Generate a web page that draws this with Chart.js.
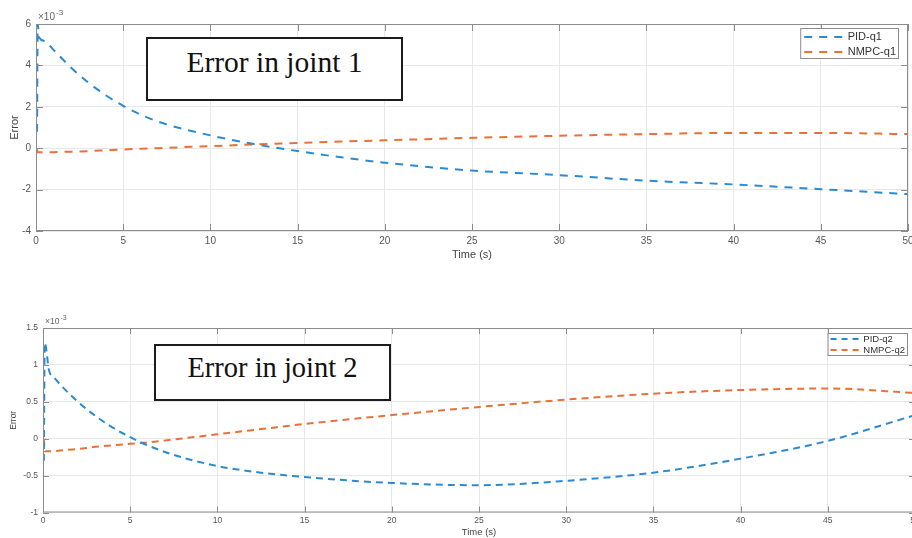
<!DOCTYPE html>
<html>
<head>
<meta charset="utf-8">
<script src="https://cdn.jsdelivr.net/npm/chart.js@4.4.1/dist/chart.umd.min.js"></script>
<style>
html, body { margin: 0; padding: 0; background: #fff; overflow: hidden; }
#wrap { position: relative; width: 912px; height: 538px; overflow: hidden; background: #fff; }
canvas { position: absolute; left: 0; }
#chartJ1 { top: 0; }
#chartJ2 { top: 300px; }
.note { position: absolute; box-sizing: border-box; background: #fff; border: 2px solid #1c1c1c;
        font-family: "Liberation Serif", "Times New Roman", serif; color: #111; line-height: 1; text-align: center; }
#note1 { left: 146px; top: 37px; width: 257px; height: 64px; font-size: 29.5px; padding-top: 9px; }
#note2 { left: 154px; top: 344px; width: 237px; height: 57px; font-size: 28.5px; padding-top: 8px; }
</style>
</head>
<body>
<div id="wrap">
  <canvas id="chartJ1" width="912" height="264"></canvas>
  <canvas id="chartJ2" width="930" height="238"></canvas>
  <div class="note" id="note1">Error in joint 1</div>
  <div class="note" id="note2">Error in joint 2</div>
</div>
<script>
// values are in units of 1e-3
const timeJ1 = [0.06, 0.1, 0.18, 0.5, 1, 1.5, 2, 3, 4, 5, 6, 7.5, 10, 12.5, 15, 17.5, 20, 25, 30, 35, 40, 45, 50];
const pidQ1 = [0.8, 6.0, 5.35, 5.18, 4.75, 4.32, 3.9, 3.17, 2.56, 2.05, 1.62, 1.15, 0.62, 0.2, -0.14, -0.44, -0.7, -1.08, -1.3, -1.57, -1.75, -1.98, -2.22];
const nmpcQ1 = [-0.05, -0.2, -0.2, -0.2, -0.19, -0.18, -0.17, -0.14, -0.1, -0.06, -0.03, 0.02, 0.1, 0.18, 0.25, 0.32, 0.38, 0.5, 0.6, 0.68, 0.74, 0.74, 0.68];

const timeJ2 = [0.05, 0.1, 0.35, 0.6, 1, 2, 3, 4, 5, 6, 7.5, 10, 12.5, 15, 20, 25, 30, 35, 40, 45, 50];
const pidQ2 = [-0.3, 1.3, 0.92, 0.84, 0.73, 0.5, 0.31, 0.15, 0.02, -0.09, -0.22, -0.37, -0.46, -0.52, -0.6, -0.63, -0.57, -0.46, -0.27, -0.03, 0.32];
const nmpcQ2 = [0, -0.17, -0.17, -0.17, -0.16, -0.14, -0.11, -0.09, -0.07, -0.05, -0.01, 0.06, 0.13, 0.2, 0.32, 0.43, 0.53, 0.61, 0.66, 0.68, 0.62];

const timeTicks = [0, 50, 5];
const errTicksJ1 = [-4, 6, 2];
const errTicksJ2 = [-1, 1.5, 0.5];

const fontFamily = '"Liberation Sans", Arial, sans-serif';
const blue = "#2a8bd3";
const orange = "#e8703a";
const tickColor = "#555";
const gridColor = "#e8e8e8";

Chart.defaults.font.family = fontFamily;
Chart.defaults.animation = false;

function points(ts, vs) {
    return ts.map((t, i) => ({ x: t, y: vs[i] }));
}

const matlabPlugin = {
    id: "matlab",
    afterLayout(chart, args, opts) {
        // put the legend in the top right corner of the axes
        const lg = chart.legend;
        const ctx = chart.ctx;
        const a = chart.chartArea;
        ctx.save();
        ctx.font = opts.legendFont + "px " + fontFamily;
        const textW = Math.max(...chart.data.datasets.map(d => ctx.measureText(d.label).width));
        ctx.restore();
        const sampleLeft = a.right - opts.boxRight - 3 - (opts.sampleWidth + opts.legendFont / 2 + textW);
        const top = a.top + opts.boxTop;
        lg.left = sampleLeft - opts.legendPad;
        lg.top = top + opts.firstRow - opts.legendPad - opts.legendFont / 2;
        lg.right = a.right;
        lg.bottom = a.bottom;
        lg.width = lg.right - lg.left;
        lg.height = lg.bottom - lg.top;
        const n = chart.data.datasets.length;
        chart.$frame = {
            left: sampleLeft - opts.boxInset,
            top: top,
            right: a.right - opts.boxRight,
            bottom: top + opts.firstRow + (n - 1) * (opts.legendFont + opts.legendPad) + opts.lastRow
        };
    },
    afterDatasetsDraw(chart, args, opts) {
        const { ctx, chartArea: a, scales } = chart;
        ctx.save();
        ctx.strokeStyle = "#8c8c8c";
        ctx.lineWidth = 1;
        ctx.strokeRect(a.left + 0.5, a.top + 0.5, a.right - a.left - 1, a.bottom - a.top - 1);
        ctx.beginPath();
        scales.x.ticks.forEach(t => {
            const px = Math.round(scales.x.getPixelForValue(t.value)) + 0.5;
            ctx.moveTo(px, a.bottom); ctx.lineTo(px, a.bottom - opts.tick);
            ctx.moveTo(px, a.top); ctx.lineTo(px, a.top + opts.tick);
        });
        scales.y.ticks.forEach(t => {
            const py = Math.round(scales.y.getPixelForValue(t.value)) + 0.5;
            ctx.moveTo(a.left, py); ctx.lineTo(a.left + opts.tick, py);
            ctx.moveTo(a.right, py); ctx.lineTo(a.right - opts.tick, py);
        });
        ctx.stroke();
        // exponent label
        ctx.fillStyle = "#666";
        ctx.textBaseline = "middle";
        ctx.font = opts.expSize + "px " + fontFamily;
        ctx.fillText("×10", a.left + 2, a.top - opts.expDy);
        const w = ctx.measureText("×10").width;
        ctx.font = opts.supSize + "px " + fontFamily;
        ctx.fillText("-3", a.left + 3 + w, a.top - opts.expDy - opts.supDy);
        ctx.restore();
    },
    afterDraw(chart) {
        const f = chart.$frame;
        const ctx = chart.ctx;
        ctx.save();
        ctx.fillStyle = "#fff";
        ctx.fillRect(f.left, f.top, f.right - f.left, f.bottom - f.top);
        ctx.strokeStyle = "#8c8c8c";
        ctx.lineWidth = 1;
        ctx.strokeRect(f.left + 0.5, f.top + 0.5, f.right - f.left - 1, f.bottom - f.top - 1);
        ctx.restore();
        chart.legend.draw();
    }
};

function makeChart(id, cfg) {
    return new Chart(document.getElementById(id), {
        type: "line",
        data: {
            datasets: [
                {
                    label: cfg.labels[0],
                    data: points(cfg.time, cfg.pid),
                    borderColor: blue,
                    backgroundColor: blue,
                    borderWidth: 2,
                    borderDash: cfg.dash,
                    pointRadius: 0,
                    fill: false,
                    cubicInterpolationMode: "monotone"
                },
                {
                    label: cfg.labels[1],
                    data: points(cfg.time, cfg.nmpc),
                    borderColor: orange,
                    backgroundColor: orange,
                    borderWidth: 2,
                    borderDash: cfg.dash,
                    pointRadius: 0,
                    fill: false,
                    cubicInterpolationMode: "monotone"
                }
            ]
        },
        options: {
            responsive: false,
            animation: false,
            layout: { padding: { top: cfg.padTop, right: cfg.padRight, left: 0, bottom: 0 } },
            scales: {
                x: {
                    type: "linear",
                    min: timeTicks[0],
                    max: timeTicks[1],
                    ticks: { stepSize: timeTicks[2], padding: cfg.xTickPad, color: tickColor, font: { size: cfg.tickSize }, maxRotation: 0, autoSkip: false },
                    grid: { color: gridColor, drawTicks: false, z: -1 },
                    border: { display: false },
                    title: { display: true, text: "Time (s)", color: "#444", font: { size: cfg.xTitleSize }, padding: { top: 0, bottom: cfg.xTitlePad } },
                    afterFit: s => { s.height = cfg.xHeight; s.paddingLeft = 0; s.paddingRight = 0; }
                },
                y: {
                    min: cfg.yTicks[0],
                    max: cfg.yTicks[1],
                    ticks: {
                        stepSize: cfg.yTicks[2], padding: cfg.yTickPad, color: tickColor, font: { size: cfg.tickSize },
                        callback: v => String(+v.toFixed(2))
                    },
                    grid: { color: gridColor, drawTicks: false, z: -1 },
                    border: { display: false },
                    title: { display: true, text: "Error", color: "#444", font: { size: cfg.yTitleSize }, padding: { top: cfg.yTitlePad, bottom: 0 } },
                    afterFit: s => { s.width = cfg.yWidth; s.paddingTop = 0; s.paddingBottom = 0; }
                }
            },
            plugins: {
                tooltip: { enabled: false },
                legend: {
                    display: true,
                    position: "chartArea",
                    align: "start",
                    labels: {
                        usePointStyle: true,
                        pointStyle: "line",
                        pointStyleWidth: cfg.legend.sampleWidth,
                        padding: cfg.legend.legendPad,
                        color: "#333",
                        font: { size: cfg.legend.legendFont },
                        generateLabels: chart => Chart.defaults.plugins.legend.labels.generateLabels(chart)
                            .map(item => Object.assign(item, { lineDash: cfg.legendDash, lineWidth: 2 }))
                    }
                },
                matlab: Object.assign({ tick: cfg.innerTick }, cfg.legend, cfg.exp)
            }
        },
        plugins: [matlabPlugin]
    });
}

makeChart("chartJ1", {
    labels: ["PID-q1", "NMPC-q1"],
    time: timeJ1, pid: pidQ1, nmpc: nmpcQ1,
    yTicks: errTicksJ1,
    dash: [8, 7], legendDash: [8, 7],
    padTop: 24, padRight: 4,
    xHeight: 33, yWidth: 36,
    tickSize: 10, xTitleSize: 11, yTitleSize: 11,
    xTickPad: 4, yTickPad: 5, xTitlePad: 2, yTitlePad: 8,
    innerTick: 7,
    legend: { legendFont: 11, legendPad: 4, sampleWidth: 38, boxRight: 9, boxTop: 4, firstRow: 9, lastRow: 7, boxInset: 4 },
    exp: { expSize: 10, supSize: 8, expDy: 7, supDy: 4 }
});

makeChart("chartJ2", {
    labels: ["PID-q2", "NMPC-q2"],
    time: timeJ2, pid: pidQ2, nmpc: nmpcQ2,
    yTicks: errTicksJ2,
    dash: [7, 5], legendDash: [6, 5],
    padTop: 28, padRight: 15,
    xHeight: 25.5, yWidth: 43,
    tickSize: 8.5, xTitleSize: 9.5, yTitleSize: 8.5,
    xTickPad: 3, yTickPad: 5, xTitlePad: 0, yTitlePad: 9,
    innerTick: 6,
    legend: { legendFont: 9.5, legendPad: 1.5, sampleWidth: 28, boxRight: 7, boxTop: 5, firstRow: 6, lastRow: 6, boxInset: 3 },
    exp: { expSize: 8.5, supSize: 7, expDy: 6, supDy: 4 }
});
</script>
</body>
</html>
